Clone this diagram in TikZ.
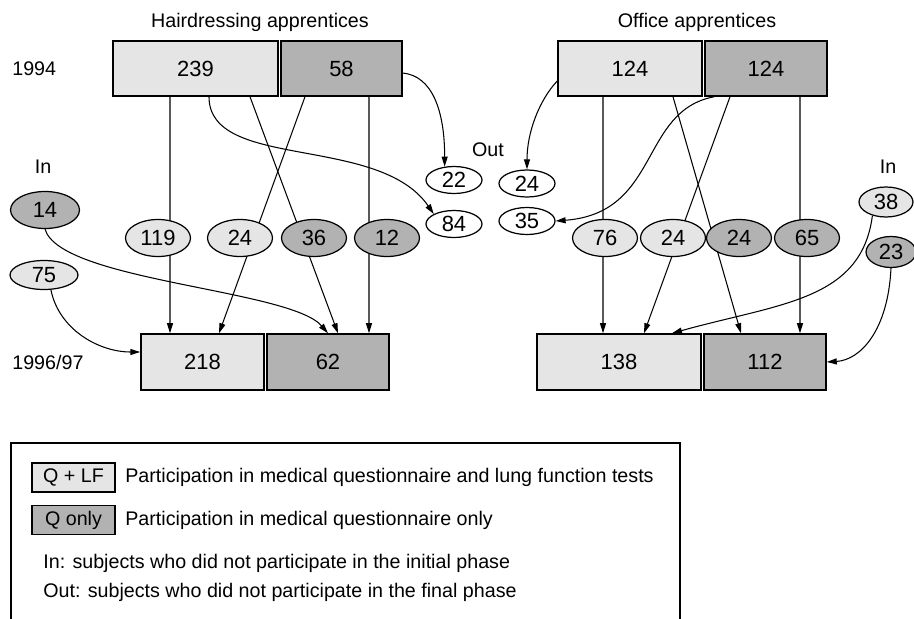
\documentclass[tikz,border=0pt]{standalone}
\usepackage{fontspec}
\setmainfont{Liberation Sans}
\usetikzlibrary{arrows.meta,shapes.geometric}

\begin{document}
\begin{tikzpicture}[x=0.02cm,y=-0.02cm,
	txt/.style={inner sep=0pt,font=\fontsize{11.2}{13}\selectfont},
	lf/.style={draw,line width=0.85pt,fill=black!10,minimum height=1.1cm,inner sep=0pt,font=\fontsize{12.5}{14}\selectfont},
	qo/.style={lf,fill=black!30},
	cnt/.style={draw,ellipse,line width=0.7pt,fill=black!10,minimum width=1.3cm,minimum height=0.74cm,inner sep=0pt,font=\fontsize{12.5}{14}\selectfont},
	cntd/.style={cnt,fill=black!30},
	gone/.style={cnt,fill=white,minimum width=1.12cm,minimum height=0.54cm},
	flow/.style={line width=0.6pt,-{Triangle[length=5.7pt,width=3.4pt]}}]
	\useasboundingbox (0,0) rectangle (914,619);
	
	\node[txt] (hTitle) at (260,22) {Hairdressing apprentices};
	\node[txt] (oTitle) at (697,22) {Office apprentices};
	\node[txt,anchor=west] (y94) at (12,69) {1994};
	\node[txt,anchor=west] (y97) at (12,362) {1996/97};
	
	\node[lf,minimum width=3.3cm] (h239) at (195.5,68.5) {239};
	\node[qo,minimum width=2.42cm] (h58) at (341.5,68.5) {58};
	\node[lf,minimum width=2.46cm,minimum height=1.12cm] (h218) at (202.5,362) {218};
	\node[qo,minimum width=2.44cm,minimum height=1.12cm] (h62) at (328,362) {62};
	\node[lf,minimum width=2.88cm] (o124a) at (630,68.5) {124};
	\node[qo,minimum width=2.44cm] (o124b) at (766,68.5) {124};
	\node[lf,minimum width=3.28cm,minimum height=1.12cm] (o138) at (619,362) {138};
	\node[qo,minimum width=2.44cm,minimum height=1.12cm] (o112) at (765,362) {112};
	
	\draw[flow] ([xshift=-0.51cm]h239.south) -- ([xshift=-0.65cm]h218.north);
	\draw[flow] ([xshift=1.09cm]h239.south) -- ([xshift=0.2cm]h62.north);
	\draw[flow] ([xshift=-0.73cm]h58.south) -- ([xshift=0.33cm]h218.north);
	\draw[flow] ([xshift=0.55cm]h58.south) -- ([xshift=0.82cm]h62.north);
	\draw[flow] ([xshift=-0.54cm]o124a.south) -- ([xshift=-0.32cm]o138.north);
	\draw[flow] ([xshift=0.86cm]o124a.south) -- ([xshift=-0.48cm]o112.north);
	\draw[flow] ([xshift=-0.72cm]o124b.south) -- ([xshift=0.5cm]o138.north);
	\draw[flow] ([xshift=0.68cm]o124b.south) -- ([xshift=0.7cm]o112.north);
	
	\node[cnt] (e119) at (158,238) {119};
	\node[cnt] (e24h) at (240,238) {24};
	\node[cntd] (e36) at (314,238) {36};
	\node[cntd] (e12) at (387,238) {12};
	\node[cnt] (e76) at (605,238) {76};
	\node[cnt] (e24a) at (673,238) {24};
	\node[cntd] (e24b) at (739,238) {24};
	\node[cntd] (e65) at (807,238) {65};
	
	\node[txt] (hIn) at (43,167) {In};
	\node[txt] (oIn) at (888,167) {In};
	\node[txt] (mOut) at (488,150) {Out};
	\node[cntd,minimum width=1.38cm] (e14) at (45,210) {14};
	\node[cnt,minimum width=1.36cm,minimum height=0.58cm] (e75) at (44,275) {75};
	\node[gone] (e22) at (454,180) {22};
	\node[gone] (e84) at (454,224) {84};
	\node[gone] (e24o) at (527,183.5) {24};
	\node[gone] (e35) at (527,221) {35};
	\node[cnt,minimum width=1.08cm,minimum height=0.6cm] (e38) at (886,202) {38};
	\node[cntd,minimum width=1.0cm,minimum height=0.62cm] (e23) at (891,252) {23};
	
	\draw[flow] ([xshift=0.27cm]h239.south) .. controls +(0,74) and +(-55,-80) .. (e84.north west);
	\draw[flow] ([yshift=-0.09cm]h58.east) .. controls +(30,3) and +(0,-55) .. (e22.125);
	\draw[flow] ([yshift=-0.25cm]o124a.west) .. controls +(-18,19) and +(0,-37) .. (e24o.north);
	\draw[flow] ([xshift=0.2cm]o124b.south west) .. controls +(-75,14) and +(105,-8) .. (e35.east);
	\draw[flow] (e14.south) .. controls +(15,52) and +(-38,-44) .. (h62.north);
	\draw[flow] (e75.-65) .. controls +(8,40) and +(-41,0) .. ([yshift=0.2cm]h218.west);
	\draw[flow] (e38.-135) .. controls +(-11,85) and +(108,-30) .. ([xshift=1.06cm]o138.north);
	\draw[flow] (e23.south) .. controls +(-3,62) and +(34,-2) .. (o112.east);
	
	\draw[line width=0.6pt] (11,619) -- (11,443) -- (680,443) -- (680,619);
	\node[lf,line width=0.6pt,minimum width=1.66cm,minimum height=0.58cm,font=\fontsize{11.2}{13}\selectfont] (kLF) at (73.5,477.5) {Q + LF};
	\node[qo,line width=0.6pt,minimum width=1.66cm,minimum height=0.58cm,font=\fontsize{11.2}{13}\selectfont] (kQ) at (73.5,520) {Q only};
	\node[txt,anchor=west] (kLFt) at (125,477.5) {Participation in medical questionnaire and lung function tests};
	\node[txt,anchor=west] (kQt) at (125,520) {Participation in medical questionnaire only};
	\node[txt,anchor=west] (kIn) at (43,563) {In: subjects who did not participate in the initial phase};
	\node[txt,anchor=west] (kOut) at (43,592) {Out: subjects who did not participate in the final phase};
\end{tikzpicture}
\end{document}
